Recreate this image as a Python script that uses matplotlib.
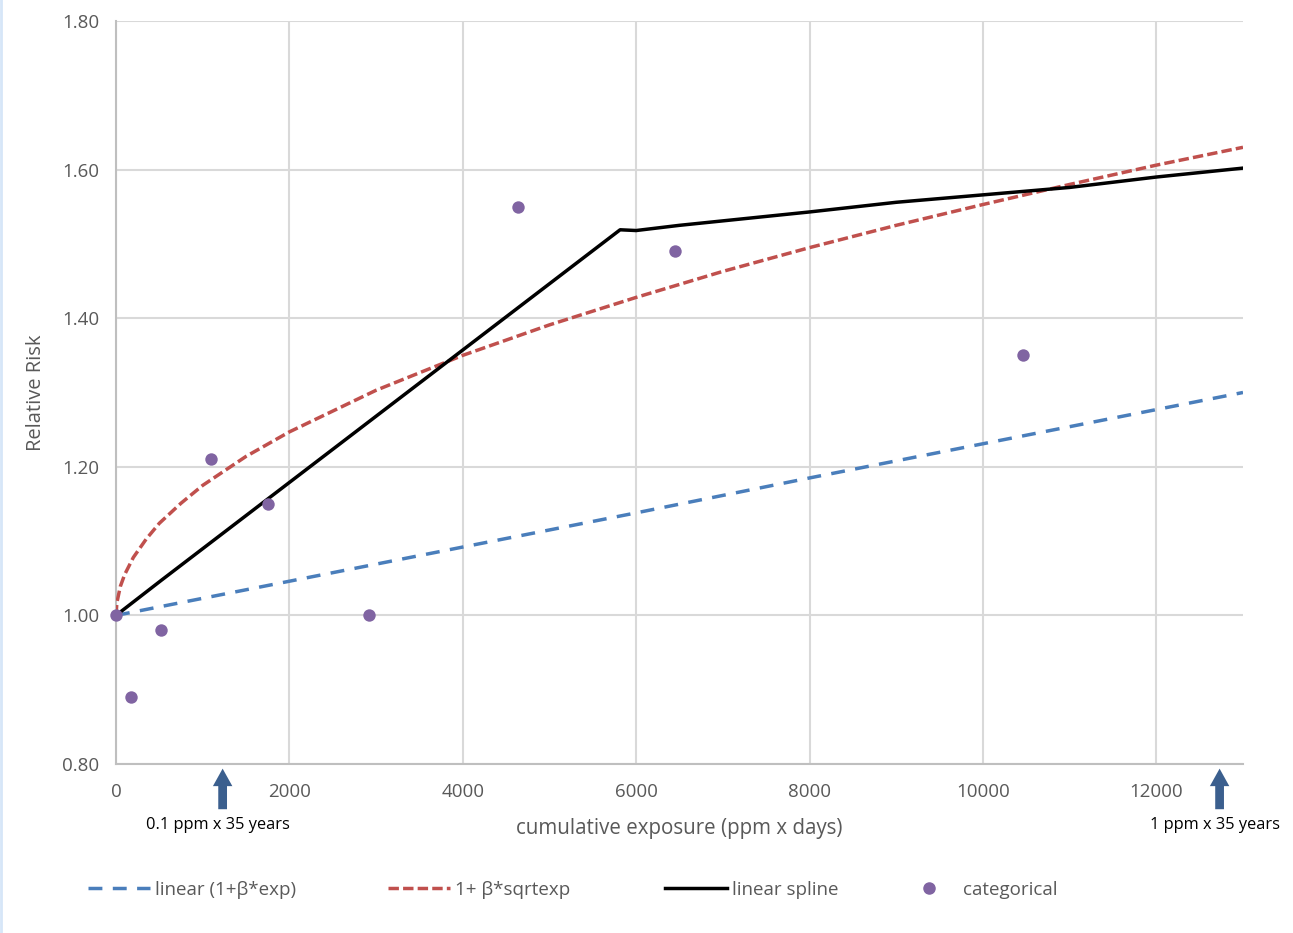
import numpy as np
import matplotlib.pyplot as plt
from matplotlib.lines import Line2D

plt.rcParams['font.family'] = ['Open Sans', 'DejaVu Sans']

# 데이터
lin_x = [0, 2000, 4000, 6000, 8000, 10000, 12000, 13000]
lin_y = [1.000, 1.046, 1.092, 1.138, 1.185, 1.231, 1.277, 1.300]

sqrt_x = [0, 10, 50, 100, 200, 350, 500, 750, 1000, 1500, 2000, 3000, 4000, 5000,
          6000, 7000, 8000, 9000, 10000, 11000, 12000, 13000]
sqrt_y = [1.000, 1.017, 1.039, 1.055, 1.078, 1.103, 1.124, 1.151, 1.175, 1.214,
          1.247, 1.303, 1.350, 1.391, 1.428, 1.463, 1.495, 1.525, 1.553, 1.580,
          1.606, 1.630]

spl_x = [0, 520, 5815, 6000, 6500, 8000, 9000, 10000, 11000, 12000, 13000]
spl_y = [1.000, 1.047, 1.519, 1.518, 1.525, 1.543, 1.556, 1.566, 1.576, 1.590, 1.602]

cat_x = [0, 175, 520, 1098, 1757, 2913, 4636, 6451, 10462]
cat_y = [1.00, 0.89, 0.98, 1.21, 1.15, 1.00, 1.55, 1.49, 1.35]

arrow_x = [1230, 12730]
arrow_labels = ['0.1 ppm x 35 years', '1 ppm x 35 years']

blue = '#4a7ebb'
red = '#c0504d'
purple = '#8064a2'
gray = '#595959'

fig = plt.figure(figsize=(12.93, 9.33), dpi=100)
ax = fig.add_axes([116/1293, 1 - 764/933, (1243-116)/1293, (764-21)/933])

ax.plot(lin_x, lin_y, color=blue, lw=2.5, dashes=(4, 3), zorder=3)
ax.plot(sqrt_x, sqrt_y, color=red, lw=2.5, dashes=(3, 1.2), zorder=3)
ax.plot(spl_x, spl_y, color='black', lw=2.5, zorder=4)
ax.scatter(cat_x, cat_y, s=80, color=purple, zorder=5, clip_on=False, linewidths=0)

ax.set_xlim(0, 13000)
ax.set_ylim(0.8, 1.8)
ax.set_xticks(np.arange(0, 13000, 2000))
ax.set_yticks(np.arange(0.8, 1.81, 0.2))
ax.set_yticklabels(['%.2f' % v for v in np.arange(0.8, 1.81, 0.2)])
ax.grid(True, color='#d9d9d9', lw=1.5)
ax.set_axisbelow(True)
for s in ['top', 'right']:
    ax.spines[s].set_visible(False)
for s in ['left', 'bottom']:
    ax.spines[s].set_color('#bfbfbf')
    ax.spines[s].set_linewidth(1.5)
ax.tick_params(length=0, labelsize=13.5, labelcolor=gray)
ax.tick_params(axis='x', pad=14)
ax.tick_params(axis='y', pad=12)
ax.set_ylabel('Relative Risk', fontsize=14.5, color=gray, labelpad=12)
ax.set_xlabel('cumulative exposure (ppm x days)', fontsize=14.8, color=gray, labelpad=12)

# 화살표 + 설명
for xv, lab in zip(arrow_x, arrow_labels):
    ax.annotate('', xy=(xv, 0.7975), xytext=(xv, 0.7354), xycoords='data',
                annotation_clip=False,
                arrowprops=dict(arrowstyle='simple,head_length=0.9,head_width=1.0,tail_width=0.45',
                                mutation_scale=14, color='#3b5f8e', lw=0))
    ax.text(xv - 50, 0.7185, lab, fontsize=11.8, color='black', ha='center', va='center')

# 범례 (개별 배치)
items = [
    (Line2D([], [], color=blue, lw=2.5, dashes=(4, 3)), 'linear (1+β*exp)', 88, 3.3, 0.25),
    (Line2D([], [], color=red, lw=2.5, dashes=(3, 1.2)), '1+ β*sqrtexp', 388, 3.3, 0.25),
    (Line2D([], [], color='black', lw=2.5), 'linear spline', 665, 3.3, 0.25),
    (Line2D([], [], color=purple, marker='o', ls='', ms=8), 'categorical', 905, 2.6, 0.5),
]
for h, lab, px, hl, tp in items:
    leg = fig.legend(handles=[h], labels=[lab], loc='center left',
                     bbox_to_anchor=(px/1293, 1 - 890/933), frameon=False,
                     borderaxespad=0, borderpad=0,
                     handlelength=hl, handletextpad=tp, fontsize=13.5)
    for t in leg.get_texts():
        t.set_color(gray)

fig.add_artist(Line2D([0.001, 0.001], [0, 1], transform=fig.transFigure,
                      color='#d6e6f8', lw=2))

plt.savefig('out.png', dpi=100)
